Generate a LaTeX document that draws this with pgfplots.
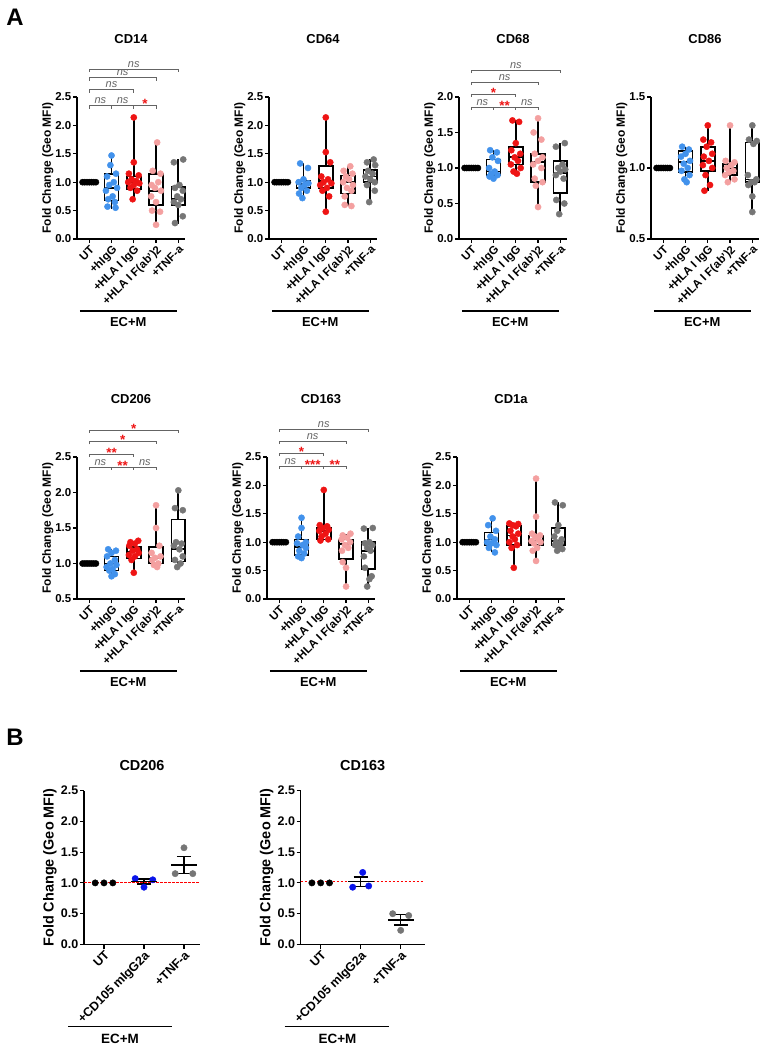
\documentclass[border=0pt]{standalone}
\usepackage{fontspec}
\setmainfont{Liberation Sans}
\usepackage{pgfplots}
\pgfplotsset{compat=1.18}
\usepgfplotslibrary{statistics}

\definecolor{cblue}{RGB}{66,146,236}
\definecolor{cred}{RGB}{238,20,20}
\definecolor{cpink}{RGB}{244,160,160}
\definecolor{cgray}{RGB}{118,118,118}
\definecolor{bblue}{RGB}{10,20,235}
\definecolor{brk}{RGB}{100,100,100}

\newcommand\fs[1]{\fontsize{#1}{#1}\selectfont}
\newcommand\brk[3]{\draw[brk, line width=0.75pt] ([yshift=-3bp]axis cs:#1,#3) -- (axis cs:#1,#3) -- (axis cs:#2,#3) -- ([yshift=-3bp]axis cs:#2,#3);}
\newcommand\nsl[2]{\node[font=\itshape\fs{11}, text=brk, yshift=4.8bp, inner sep=0pt] at (axis cs:#1,#2) {ns};}
\newcommand\st[3]{\node[font=\bfseries\fs{13.5}, text=cred, yshift=1.5bp, inner sep=0pt] at (axis cs:#1,#2) {#3};}

\pgfplotsset{
  base/.style={scale only axis, axis lines*=left, clip=false,
    axis line style={line width=1.3pt},
    every tick/.style={black, line width=1.2pt}, tick align=outside, major tick length=4bp,
    yticklabel={\pgfmathprintnumber[fixed,fixed zerofill,precision=1,assume math mode=true]{\tick}},
    x tick label style={rotate=45, anchor=north east, inner sep=1bp},
    y tick label style={inner sep=1.5bp},
    every axis title shift=0pt,
  },
  pA/.style={base, width=108bp, height=142bp, xmin=-0.55, xmax=4.3, xtick={0,1,2,3,4},
    xticklabels={UT,+hIgG,+HLA I IgG,+HLA I F(ab\char39)2,+TNF-a},
    tick label style={font=\bfseries\fs{11.5}},
    ylabel={Fold Change (Geo MFI)},
    every axis y label/.style={at={(axis description cs:-0.27,0.5)}, rotate=90, anchor=center, font=\bfseries\fs{12}},
    title style={at={(axis description cs:0.5,1)}, anchor=center, yshift=58bp, font=\bfseries\fs{13}},
  },
  pB/.style={base, height=154bp, xmin=-0.5, ymin=0, ymax=2.5, ytick={0,0.5,1,1.5,2,2.5}, xtick={0,1,2},
    xticklabels={UT,+CD105 mIgG2a,+TNF-a},
    tick label style={font=\bfseries\fs{12.5}},
    ylabel={Fold Change (Geo MFI)},
    title style={at={(axis description cs:0.5,1)}, anchor=center, yshift=25bp, font=\bfseries\fs{14.5}},
  },
  bx/.style={black, line width=1.7pt, solid,
    boxplot/every box/.style={draw=black, line width=1.7pt},
    boxplot/every whisker/.style={draw=black, line width=1.7pt},
    boxplot/every median/.style={draw=black, line width=1.7pt},
    boxplot prepared={draw direction=y, box extend=0.62, whisker extend=0, #1}},
  pts/.style={only marks, mark=*, mark size=3.1bp, color=#1, mark options={draw=#1, fill=#1}},
  bpts/.style={only marks, mark=*, mark size=3.2bp, color=#1, mark options={draw=#1, fill=#1}},
  msem/.style={only marks, mark=-, mark size=13bp, mark options={line width=1.6pt, black},
    error bars/.cd, y dir=both, y explicit, error bar style={line width=1.6pt, black},
    error mark options={rotate=90, mark size=7bp, line width=1.6pt, black}},
}

\begin{document}
\begin{tikzpicture}
\path[use as bounding box] (0,0) rectangle (770bp,1050bp);
\node[font=\bfseries\fs{24}] at (15bp,1033bp) {A};
\node[font=\bfseries\fs{24}] at (15bp,313bp) {B};

% ---------------- CD14
\begin{axis}[pA, at={(77bp,811bp)}, anchor=south west, ymin=0, ymax=2.5, ytick={0,0.5,1,1.5,2,2.5}, title={CD14}]
\addplot[bx={draw position=0, lower whisker=1, lower quartile=1, median=1, upper quartile=1, upper whisker=1}] coordinates {};
\addplot[bx={draw position=1, lower whisker=0.53, lower quartile=0.68, median=0.9, upper quartile=1.15, upper whisker=1.47}] coordinates {};
\addplot[bx={draw position=2, lower whisker=0.7, lower quartile=0.88, median=1.0, upper quartile=1.1, upper whisker=2.14}] coordinates {};
\addplot[bx={draw position=3, lower whisker=0.25, lower quartile=0.6, median=0.85, upper quartile=1.15, upper whisker=1.7}] coordinates {};
\addplot[bx={draw position=4, lower whisker=0.27, lower quartile=0.6, median=0.7, upper quartile=0.92, upper whisker=1.4}] coordinates {};
\addplot[pts=black] coordinates {(-0.3,1)(-0.2,1)(-0.1,1)(0,1)(0.1,1)(0.2,1)(0.3,1)};
\addplot[pts=cblue] coordinates {(1,1.47)(0.95,1.3)(1.2,1.15)(0.8,1.1)(1.1,1.0)(0.9,0.95)(1.25,0.9)(0.75,0.85)(1.05,0.75)(0.85,0.7)(1.15,0.65)(0.82,0.57)(1.18,0.55)};
\addplot[pts=cred] coordinates {(2,2.14)(2,1.35)(1.78,1.15)(2.22,1.12)(1.9,1.05)(2.1,1.02)(1.75,1.0)(2.25,0.98)(2.0,0.95)(1.85,0.9)(2.15,0.85)(1.95,0.7)};
\addplot[pts=cpink] coordinates {(3.05,1.7)(2.85,1.2)(3.2,1.15)(3.1,1.0)(2.8,0.95)(2.95,0.9)(3.22,0.85)(2.78,0.75)(3.0,0.65)(2.82,0.5)(3.18,0.48)(3.0,0.25)};
\addplot[pts=cgray] coordinates {(4.22,1.4)(3.8,1.35)(4.05,0.95)(3.85,0.9)(4.2,0.85)(3.95,0.75)(4.12,0.7)(3.8,0.65)(4.0,0.6)(4.2,0.4)(3.85,0.28)};
\brk{0}{1}{2.35}\brk{1}{2}{2.35}\brk{2}{3}{2.35}\brk{0}{2}{2.63}\brk{0}{3}{2.84}\brk{0}{4}{2.99}
\nsl{0.5}{2.35}\nsl{1.5}{2.35}\st{2.5}{2.35}{*}\nsl{1}{2.63}\nsl{1.5}{2.84}\nsl{2}{2.99}
\draw[line width=1.2pt] ([yshift=-72bp]axis cs:-0.42,0) -- ([yshift=-72bp]axis cs:3.92,0);
\node[font=\bfseries\fs{13}] at ([yshift=-83bp]axis cs:1.75,0) {EC+M};
\end{axis}

% ---------------- CD64
\begin{axis}[pA, at={(269bp,811bp)}, anchor=south west, ymin=0, ymax=2.5, ytick={0,0.5,1,1.5,2,2.5}, title={CD64}]
\addplot[bx={draw position=0, lower whisker=1, lower quartile=1, median=1, upper quartile=1, upper whisker=1}] coordinates {};
\addplot[bx={draw position=1, lower whisker=0.7, lower quartile=0.9, median=0.97, upper quartile=1.02, upper whisker=1.33}] coordinates {};
\addplot[bx={draw position=2, lower whisker=0.48, lower quartile=0.9, median=1.02, upper quartile=1.28, upper whisker=2.14}] coordinates {};
\addplot[bx={draw position=3, lower whisker=0.58, lower quartile=0.8, median=1.0, upper quartile=1.12, upper whisker=1.28}] coordinates {};
\addplot[bx={draw position=4, lower whisker=0.65, lower quartile=1.0, median=1.1, upper quartile=1.22, upper whisker=1.4}] coordinates {};
\addplot[pts=black] coordinates {(-0.3,1)(-0.2,1)(-0.1,1)(0,1)(0.1,1)(0.2,1)(0.3,1)};
\addplot[pts=cblue] coordinates {(0.85,1.33)(1.2,1.25)(1.0,1.05)(0.78,1.0)(1.22,0.98)(1.05,0.95)(0.9,0.9)(1.15,0.85)(0.8,0.8)(0.95,0.72)};
\addplot[pts=cred] coordinates {(2,2.14)(2,1.53)(2.2,1.35)(1.8,1.1)(2.1,1.05)(1.9,1.0)(2.25,0.98)(1.75,0.95)(2.05,0.9)(1.85,0.85)(2.15,0.75)(2,0.48)};
\addplot[pts=cpink] coordinates {(3.1,1.28)(2.8,1.2)(3.2,1.15)(2.9,1.1)(3.05,1.05)(2.78,1.0)(3.22,0.95)(2.95,0.9)(3.15,0.85)(2.85,0.75)(2.85,0.6)(3.15,0.58)};
\addplot[pts=cgray] coordinates {(4.15,1.4)(3.85,1.35)(4.22,1.3)(3.9,1.2)(4.1,1.15)(3.78,1.1)(4.0,1.05)(4.2,1.0)(3.85,0.95)(4.2,0.85)(3.95,0.65)};
\draw[line width=1.2pt] ([yshift=-72bp]axis cs:-0.42,0) -- ([yshift=-72bp]axis cs:3.92,0);
\node[font=\bfseries\fs{13}] at ([yshift=-83bp]axis cs:1.75,0) {EC+M};
\end{axis}

% ---------------- CD68
\begin{axis}[pA, at={(459bp,811bp)}, anchor=south west, ymin=0, ymax=2.0, ytick={0,0.5,1,1.5,2}, title={CD68}]
\addplot[bx={draw position=0, lower whisker=1, lower quartile=1, median=1, upper quartile=1, upper whisker=1}] coordinates {};
\addplot[bx={draw position=1, lower whisker=0.85, lower quartile=0.9, median=0.95, upper quartile=1.12, upper whisker=1.25}] coordinates {};
\addplot[bx={draw position=2, lower whisker=0.92, lower quartile=1.05, median=1.15, upper quartile=1.3, upper whisker=1.67}] coordinates {};
\addplot[bx={draw position=3, lower whisker=0.45, lower quartile=0.8, median=1.08, upper quartile=1.2, upper whisker=1.7}] coordinates {};
\addplot[bx={draw position=4, lower whisker=0.35, lower quartile=0.65, median=0.93, upper quartile=1.1, upper whisker=1.35}] coordinates {};
\addplot[pts=black] coordinates {(-0.3,1)(-0.2,1)(-0.1,1)(0,1)(0.1,1)(0.2,1)(0.3,1)};
\addplot[pts=cblue] coordinates {(0.85,1.25)(1.15,1.22)(0.95,1.15)(1.2,1.1)(0.8,1.0)(1.05,0.95)(0.9,0.92)(1.18,0.9)(0.82,0.88)(1.0,0.85)};
\addplot[pts=cred] coordinates {(1.85,1.67)(2.15,1.65)(2.0,1.35)(1.8,1.25)(2.2,1.2)(1.95,1.15)(2.1,1.1)(1.78,1.05)(2.22,1.0)(1.9,0.95)(2.05,0.92)};
\addplot[pts=cpink] coordinates {(3,1.7)(2.8,1.5)(3.15,1.4)(2.85,1.2)(3.2,1.15)(3.0,1.1)(2.78,1.05)(3.15,1.0)(2.85,0.85)(3.2,0.8)(2.9,0.75)(3,0.45)};
\addplot[pts=cgray] coordinates {(4.2,1.35)(3.8,1.3)(4.1,1.05)(3.9,1.0)(4.22,0.98)(4.0,0.95)(3.8,0.9)(4.15,0.85)(3.82,0.55)(4.18,0.5)(3.95,0.35)};
\brk{0}{1}{1.86}\brk{1}{2}{1.86}\brk{2}{3}{1.86}\brk{0}{2}{2.04}\brk{0}{3}{2.21}\brk{0}{4}{2.38}
\nsl{0.5}{1.86}\st{1.5}{1.86}{**}\nsl{2.5}{1.86}\st{1}{2.04}{*}\nsl{1.5}{2.21}\nsl{2}{2.38}
\draw[line width=1.2pt] ([yshift=-72bp]axis cs:-0.42,0) -- ([yshift=-72bp]axis cs:3.92,0);
\node[font=\bfseries\fs{13}] at ([yshift=-83bp]axis cs:1.75,0) {EC+M};
\end{axis}

% ---------------- CD86
\begin{axis}[pA, at={(651bp,811bp)}, anchor=south west, ymin=0.5, ymax=1.5, ytick={0.5,1,1.5}, title={CD86}]
\addplot[bx={draw position=0, lower whisker=1, lower quartile=1, median=1, upper quartile=1, upper whisker=1}] coordinates {};
\addplot[bx={draw position=1, lower whisker=0.9, lower quartile=0.97, median=1.04, upper quartile=1.12, upper whisker=1.15}] coordinates {};
\addplot[bx={draw position=2, lower whisker=0.84, lower quartile=0.98, median=1.05, upper quartile=1.15, upper whisker=1.3}] coordinates {};
\addplot[bx={draw position=3, lower whisker=0.9, lower quartile=0.95, median=1.0, upper quartile=1.03, upper whisker=1.3}] coordinates {};
\addplot[bx={draw position=4, lower whisker=0.69, lower quartile=0.9, median=0.92, upper quartile=1.18, upper whisker=1.3}] coordinates {};
\addplot[pts=black] coordinates {(-0.3,1)(-0.2,1)(-0.1,1)(0,1)(0.1,1)(0.2,1)(0.3,1)};
\addplot[pts=cblue] coordinates {(0.85,1.15)(1.15,1.13)(1.0,1.1)(0.8,1.08)(1.2,1.05)(0.92,1.03)(1.1,1.0)(0.82,0.98)(1.18,0.95)(0.95,0.92)(1.05,0.9)};
\addplot[pts=cred] coordinates {(2,1.3)(1.8,1.2)(2.15,1.18)(1.95,1.15)(2.2,1.1)(1.82,1.08)(2.05,1.05)(1.78,1.02)(2.2,1.0)(1.9,0.95)(2.1,0.88)(1.85,0.84)};
\addplot[pts=cpink] coordinates {(3,1.3)(2.8,1.05)(3.2,1.04)(3.05,1.02)(2.85,1.0)(3.15,0.98)(2.95,0.97)(2.78,0.95)(3.2,0.92)(2.9,0.9)};
\addplot[pts=cgray] coordinates {(4,1.3)(3.85,1.2)(4.2,1.19)(4.05,1.17)(3.8,0.95)(4.18,0.92)(3.95,0.9)(4.1,0.9)(3.82,0.88)(4.0,0.8)(4.0,0.69)};
\draw[line width=1.2pt] ([yshift=-72bp]axis cs:-0.42,0.5) -- ([yshift=-72bp]axis cs:3.92,0.5);
\node[font=\bfseries\fs{13}] at ([yshift=-83bp]axis cs:1.75,0.5) {EC+M};
\end{axis}

% ---------------- CD206
\begin{axis}[pA, at={(77bp,451bp)}, anchor=south west, ymin=0.5, ymax=2.5, ytick={0.5,1,1.5,2,2.5}, title={CD206}]
\addplot[bx={draw position=0, lower whisker=1, lower quartile=1, median=1, upper quartile=1, upper whisker=1}] coordinates {};
\addplot[bx={draw position=1, lower whisker=0.82, lower quartile=0.9, median=1.0, upper quartile=1.1, upper whisker=1.2}] coordinates {};
\addplot[bx={draw position=2, lower whisker=0.87, lower quartile=1.07, median=1.17, upper quartile=1.23, upper whisker=1.32}] coordinates {};
\addplot[bx={draw position=3, lower whisker=0.95, lower quartile=1.0, median=1.08, upper quartile=1.23, upper whisker=1.8}] coordinates {};
\addplot[bx={draw position=4, lower whisker=0.95, lower quartile=1.03, median=1.2, upper quartile=1.62, upper whisker=2.0}] coordinates {};
\addplot[pts=black] coordinates {(-0.3,1)(-0.2,1)(-0.1,1)(0,1)(0.1,1)(0.2,1)(0.3,1)};
\addplot[pts=cblue] coordinates {(0.85,1.2)(1.2,1.18)(1.0,1.15)(0.8,1.1)(1.15,1.05)(0.95,1.0)(1.22,0.98)(0.78,0.95)(1.05,0.92)(0.9,0.9)(1.15,0.85)(1.0,0.82)};
\addplot[pts=cred] coordinates {(2.2,1.32)(1.85,1.3)(2.05,1.28)(1.8,1.25)(2.15,1.2)(1.95,1.18)(2.22,1.15)(1.78,1.12)(2.05,1.1)(1.9,1.05)(2,0.87)};
\addplot[pts=cpink] coordinates {(3,1.82)(3,1.5)(3.15,1.25)(2.8,1.15)(3.2,1.1)(2.95,1.08)(2.82,1.05)(3.1,1.0)(2.9,0.98)(3.05,0.95)};
\addplot[pts=cgray] coordinates {(4,2.03)(3.85,1.78)(4.2,1.75)(3.9,1.3)(4.15,1.28)(3.8,1.25)(4.05,1.2)(4.2,1.1)(3.85,1.05)(4.1,1.0)(3.95,0.95)};
\brk{0}{1}{2.36}\brk{1}{2}{2.36}\brk{2}{3}{2.36}\brk{0}{2}{2.54}\brk{0}{3}{2.72}\brk{0}{4}{2.88}
\nsl{0.5}{2.36}\st{1.5}{2.36}{**}\nsl{2.5}{2.36}\st{1}{2.54}{**}\st{1.5}{2.72}{*}\st{2}{2.88}{*}
\draw[line width=1.2pt] ([yshift=-72bp]axis cs:-0.42,0.5) -- ([yshift=-72bp]axis cs:3.92,0.5);
\node[font=\bfseries\fs{13}] at ([yshift=-83bp]axis cs:1.75,0.5) {EC+M};
\end{axis}

% ---------------- CD163
\begin{axis}[pA, at={(267bp,451bp)}, anchor=south west, ymin=0, ymax=2.5, ytick={0,0.5,1,1.5,2,2.5}, title={CD163}]
\addplot[bx={draw position=0, lower whisker=1, lower quartile=1, median=1, upper quartile=1, upper whisker=1}] coordinates {};
\addplot[bx={draw position=1, lower whisker=0.72, lower quartile=0.77, median=0.92, upper quartile=1.05, upper whisker=1.43}] coordinates {};
\addplot[bx={draw position=2, lower whisker=1.03, lower quartile=1.05, median=1.2, upper quartile=1.25, upper whisker=1.92}] coordinates {};
\addplot[bx={draw position=3, lower whisker=0.22, lower quartile=0.7, median=0.97, upper quartile=1.05, upper whisker=1.15}] coordinates {};
\addplot[bx={draw position=4, lower whisker=0.22, lower quartile=0.53, median=0.85, upper quartile=1.0, upper whisker=1.25}] coordinates {};
\addplot[pts=black] coordinates {(-0.3,1)(-0.2,1)(-0.1,1)(0,1)(0.1,1)(0.2,1)(0.3,1)};
\addplot[pts=cblue] coordinates {(1,1.43)(1,1.25)(0.85,1.1)(1.2,1.0)(0.8,0.98)(1.05,0.95)(1.2,0.9)(0.9,0.85)(1.12,0.8)(0.85,0.75)(1.0,0.72)};
\addplot[pts=cred] coordinates {(2,1.92)(1.82,1.3)(2.15,1.28)(1.95,1.25)(2.22,1.22)(1.8,1.2)(2.08,1.15)(1.9,1.1)(2.2,1.05)(1.85,1.03)};
\addplot[pts=cpink] coordinates {(3.2,1.15)(2.85,1.12)(3.05,1.08)(2.8,1.05)(3.18,1.0)(2.95,0.95)(3.1,0.9)(2.82,0.85)(2.85,0.65)(3.0,0.55)(3,0.22)};
\addplot[pts=cgray] coordinates {(4.2,1.25)(3.8,1.24)(4.05,1.0)(3.85,0.98)(4.18,0.95)(3.95,0.9)(4.1,0.85)(3.8,0.75)(3.85,0.55)(4.15,0.4)(4.05,0.35)(3.95,0.22)};
\brk{0}{1}{2.34}\brk{1}{2}{2.34}\brk{2}{3}{2.34}\brk{0}{2}{2.57}\brk{0}{3}{2.78}\brk{0}{4}{2.99}
\nsl{0.5}{2.34}\st{1.5}{2.34}{***}\st{2.5}{2.34}{**}\st{1}{2.57}{*}\nsl{1.5}{2.78}\nsl{2}{2.99}
\draw[line width=1.2pt] ([yshift=-72bp]axis cs:-0.42,0) -- ([yshift=-72bp]axis cs:3.92,0);
\node[font=\bfseries\fs{13}] at ([yshift=-83bp]axis cs:1.75,0) {EC+M};
\end{axis}

% ---------------- CD1a
\begin{axis}[pA, at={(457bp,451bp)}, anchor=south west, ymin=0, ymax=2.5, ytick={0,0.5,1,1.5,2,2.5}, title={CD1a}]
\addplot[bx={draw position=0, lower whisker=1, lower quartile=1, median=1, upper quartile=1, upper whisker=1}] coordinates {};
\addplot[bx={draw position=1, lower whisker=0.82, lower quartile=0.95, median=1.05, upper quartile=1.17, upper whisker=1.42}] coordinates {};
\addplot[bx={draw position=2, lower whisker=0.55, lower quartile=0.95, median=1.12, upper quartile=1.28, upper whisker=1.33}] coordinates {};
\addplot[bx={draw position=3, lower whisker=0.67, lower quartile=0.95, median=1.03, upper quartile=1.12, upper whisker=2.12}] coordinates {};
\addplot[bx={draw position=4, lower whisker=0.85, lower quartile=0.95, median=1.02, upper quartile=1.25, upper whisker=1.7}] coordinates {};
\addplot[pts=black] coordinates {(-0.3,1)(-0.2,1)(-0.1,1)(0,1)(0.1,1)(0.2,1)(0.3,1)};
\addplot[pts=cblue] coordinates {(1.05,1.42)(0.85,1.3)(1.2,1.2)(0.95,1.1)(1.15,1.05)(0.8,1.0)(1.0,0.98)(1.22,0.95)(0.88,0.9)(1.15,0.82)};
\addplot[pts=cred] coordinates {(1.8,1.33)(2.2,1.32)(1.95,1.3)(2.1,1.28)(1.85,1.2)(2.2,1.15)(1.95,1.1)(2.05,1.05)(1.8,1.0)(2.15,0.95)(1.9,0.9)(2,0.55)};
\addplot[pts=cpink] coordinates {(3,2.12)(3,1.45)(2.82,1.15)(3.18,1.12)(2.95,1.1)(3.1,1.05)(2.8,1.02)(3.2,1.0)(2.9,0.98)(3.05,0.9)(2.85,0.85)(3,0.67)};
\addplot[pts=cgray] coordinates {(3.85,1.7)(4.2,1.65)(4.0,1.3)(3.95,1.2)(3.82,1.1)(4.15,1.05)(3.9,1.0)(4.1,0.98)(3.85,0.95)(4.05,0.9)(4.18,0.88)(3.95,0.85)};
\draw[line width=1.2pt] ([yshift=-72bp]axis cs:-0.42,0) -- ([yshift=-72bp]axis cs:3.92,0);
\node[font=\bfseries\fs{13}] at ([yshift=-83bp]axis cs:1.75,0) {EC+M};
\end{axis}

% ---------------- B: CD206
\begin{axis}[pB, at={(84bp,105.5bp)}, anchor=south west, width=116bp, xmax=2.4, title={CD206},
  every axis y label/.style={at={(axis description cs:-0.293,0.5)}, rotate=90, anchor=center, font=\bfseries\fs{14.5}}]
\addplot[bpts=black] coordinates {(-0.22,1)(0,1)(0.22,1)};
\addplot[bpts=bblue] coordinates {(0.78,1.07)(1.22,1.05)(1.0,0.93)};
\addplot[bpts=cgray] coordinates {(2,1.57)(1.78,1.15)(2.22,1.15)};
\addplot[msem] coordinates {(1,1.02) +- (0,0.04) (2,1.29) +- (0,0.14)};
\draw[red, line width=1pt, dash pattern=on 2.5bp off 1.5bp] (axis cs:-0.5,1) -- (axis cs:2.4,1);
\draw[line width=1.2pt] ([yshift=-82bp]axis cs:-0.9,0) -- ([yshift=-82bp]axis cs:1.69,0);
\node[font=\bfseries\fs{13.5}] at ([yshift=-94bp]axis cs:0.4,0) {EC+M};
\end{axis}

% ---------------- B: CD163
\begin{axis}[pB, at={(300.7bp,105.5bp)}, anchor=south west, width=124bp, xmax=2.6, title={CD163},
  every axis y label/.style={at={(axis description cs:-0.274,0.5)}, rotate=90, anchor=center, font=\bfseries\fs{14.5}}]
\addplot[bpts=black] coordinates {(-0.22,1)(0,1)(0.22,1)};
\addplot[bpts=bblue] coordinates {(1.05,1.17)(0.8,0.93)(1.2,0.95)};
\addplot[bpts=cgray] coordinates {(1.8,0.5)(2.2,0.47)(2,0.23)};
\addplot[msem] coordinates {(1,1.02) +- (0,0.08) (2,0.4) +- (0,0.085)};
\draw[red, line width=1pt, dash pattern=on 2.5bp off 1.5bp] (axis cs:-0.5,1.02) -- (axis cs:2.6,1.02);
\draw[line width=1.2pt] ([yshift=-82bp]axis cs:-0.9,0) -- ([yshift=-82bp]axis cs:1.7,0);
\node[font=\bfseries\fs{13.5}] at ([yshift=-94bp]axis cs:0.42,0) {EC+M};
\end{axis}
\end{tikzpicture}
\end{document}
